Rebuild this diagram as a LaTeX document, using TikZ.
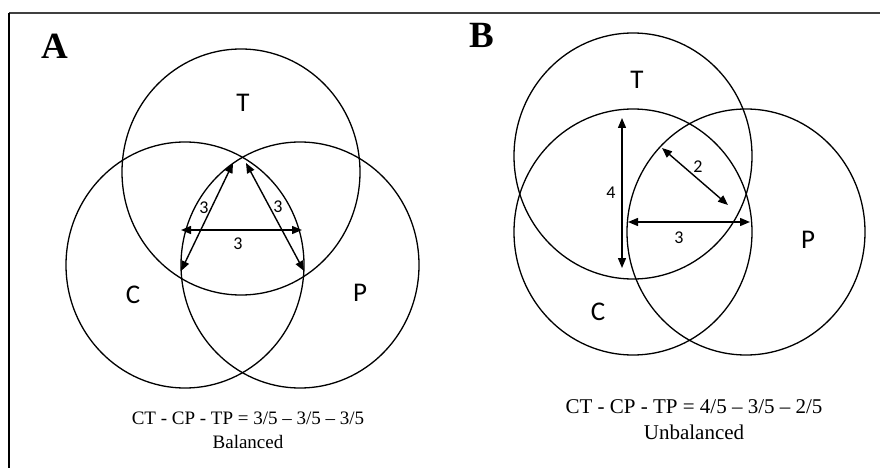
\documentclass[tikz,border=0pt]{standalone}
\usepackage{fontspec}
\setmainfont{Liberation Serif}
\newfontfamily\labfont{Carlito}
\usetikzlibrary{arrows.meta,shapes.geometric}

\begin{document}
\begin{tikzpicture}[x=1pt, y=-1pt, >={Triangle[length=10pt,width=8pt]},
  ring/.style={draw, ellipse, line width=1.3pt, minimum width=238pt, minimum height=246pt, inner sep=0pt},
  setlab/.style={font=\labfont\fontsize{27}{27}\selectfont},
  num/.style={font=\labfont\fontsize{18}{18}\selectfont, inner sep=1pt},
  dim/.style={<->, line width=1.4pt},
  panel/.style={font=\bfseries\fontsize{37}{37}\selectfont},
  caption/.style={align=center, font=\fontsize{19}{24}\selectfont}]
\useasboundingbox (0,0) rectangle (880,468);
% frame
\draw[line width=1.6pt, black!75] (9,13) -- (880,13);
\draw[line width=1.6pt] (9,13) -- (9,468);

% panel A: balanced
\node[panel] (labA) at (55,46) {A};
\node[ring] (TA) at (241,172) {};
\node[ring] (CA) at (185,265) {};
\node[ring] (PA) at (300,265) {};
\node[setlab] (tA) at (243,103) {T};
\node[setlab] (cA) at (133,295) {C};
\node[setlab] (pA) at (360,293) {P};
\coordinate (a1) at (233,163);
\coordinate (a2) at (181,271);
\coordinate (a3) at (246,163);
\coordinate (a4) at (304,271);
\coordinate (a5) at (181,230);
\coordinate (a6) at (302,230);
\draw[dim] (a1) -- (a2);
\draw[dim] (a3) -- (a4);
\draw[dim] (a5) -- (a6);
\node[num] (nA1) at (204,208) {3};
\node[num] (nA2) at (278,207) {3};
\node[num] (nA3) at (238,244) {3};
\node[caption] (capA) at (248,430) {CT - CP - TP = 3/5 -- 3/5 -- 3/5\\Balanced};

% panel B: unbalanced
\node[panel] (labB) at (482,35) {B};
\node[ring] (TB) at (633,156) {};
\node[ring] (CB) at (633,232) {};
\node[ring] (PB) at (746,232) {};
\node[setlab] (tB) at (637,80) {T};
\node[setlab] (cB) at (598,312) {C};
\node[setlab] (pB) at (808,240) {P};
\coordinate (b1) at (622,118);
\coordinate (b2) at (622,268);
\coordinate (b3) at (662,148);
\coordinate (b4) at (728,205);
\coordinate (b5) at (628,222);
\coordinate (b6) at (750,222);
\draw[dim] (b1) -- (b2);
\draw[dim] (b3) -- (b4);
\draw[dim] (b5) -- (b6);
\node[num] (nB1) at (611,193) {4};
\node[num] (nB2) at (698,167) {2};
\node[num] (nB3) at (679,238) {3};
\node[caption, font=\fontsize{21}{26}\selectfont] (capB) at (694,420) {CT - CP - TP = 4/5 -- 3/5 -- 2/5\\Unbalanced};
\end{tikzpicture}
\end{document}
